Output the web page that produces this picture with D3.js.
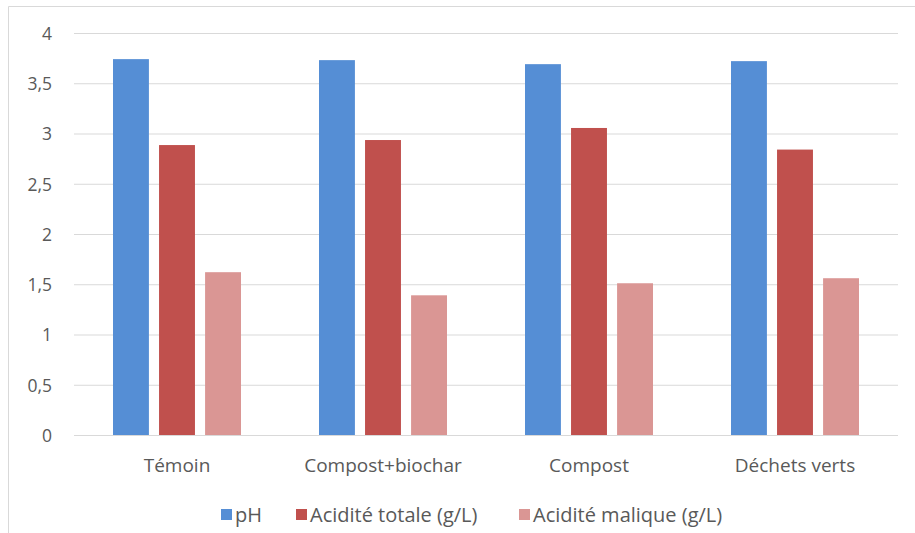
<!DOCTYPE html>
<html><head><meta charset="utf-8">
<script src="https://cdn.jsdelivr.net/npm/d3@7"></script>
<style>body{margin:0;background:#fff}svg{display:block}text{font-family:"Open Sans",sans-serif;fill:#595959}</style>
</head><body><svg id="c" width="915" height="533"></svg>
<script>
const categories = ["Témoin","Compost+biochar","Compost","Déchets verts"];
const seriesNames = ["pH","Acidité totale (g/L)","Acidité malique (g/L)"];
const pH = [3.74,3.73,3.69,3.72];
const aciditeTotale = [2.885,2.935,3.055,2.84];
const aciditeMalique = [1.62,1.39,1.51,1.56];
const yTicks = [0,0.5,1,1.5,2,2.5,3,3.5,4];
const colors = ["#558ed5","#c0504d","#da9694"];
const series = [pH, aciditeTotale, aciditeMalique];

const svg = d3.select("#c");
const m = {l:74, r:17, t:33, b:98};
const W = 915, H = 533;
const x0 = d3.scaleBand().domain(categories).range([m.l, W-m.r]).paddingInner(0).paddingOuter(0);
const x1 = d3.scaleBand().domain(seriesNames).range([39, 167]).paddingInner(0.22).paddingOuter(0);
const y = d3.scaleLinear().domain([0,4]).range([H-m.b, m.t]);

// border
svg.append("path").attr("d",`M8.5,${H}V6.5H${W}`).attr("fill","none").attr("stroke","#d9d9d9").attr("stroke-width",1);

// grid
const yAxis = d3.axisLeft(y).tickValues(yTicks).tickSize(-(W-m.l-m.r)).tickPadding(22)
  .tickFormat(d=>String(d).replace(".",","));
const ga = svg.append("g").attr("transform",`translate(${m.l},0)`).call(yAxis);
ga.select(".domain").remove();
ga.selectAll(".tick line").attr("stroke","#d9d9d9").attr("stroke-width",1);
ga.selectAll(".tick text").attr("font-size",17.5).attr("dy","0.36em").style("fill","#595959");

// bars
categories.forEach((c,ci)=>{
  series.forEach((s,si)=>{
    svg.append("rect")
      .attr("x", x0(c)+x1(seriesNames[si]))
      .attr("y", y(s[ci]))
      .attr("width", x1.bandwidth())
      .attr("height", y(0)-y(s[ci]))
      .attr("fill", colors[si]);
  });
});

// x labels
const xAxis = d3.axisBottom(x0).tickSize(0).tickPadding(0);
const gx = svg.append("g").attr("transform",`translate(0,${y(0)})`).call(xAxis);
gx.select(".domain").remove();
gx.selectAll(".tick text").attr("font-size",19).attr("dy",null).attr("y",37).style("fill","#595959");

// legend
const legX = [221, 296, 519];
const lg = svg.append("g");
seriesNames.forEach((n,i)=>{
  lg.append("rect").attr("x",legX[i]).attr("y",509).attr("width",11).attr("height",11).attr("fill",colors[i]);
  lg.append("text").attr("x",legX[i]+14).attr("y",522).attr("font-size",20).text(n);
});
</script></body></html>
